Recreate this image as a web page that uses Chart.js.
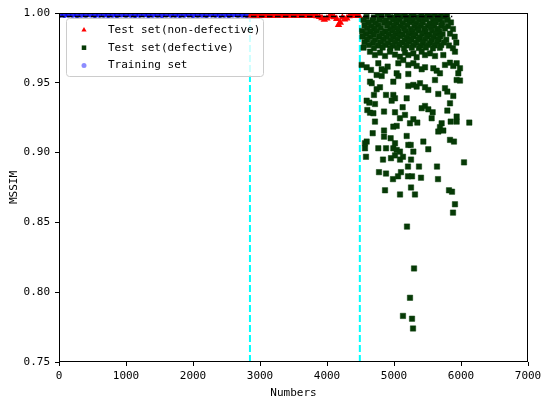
<!DOCTYPE html>
<html>
<head>
<meta charset="utf-8">
<title>MSSIM</title>
<script src="https://cdn.jsdelivr.net/npm/chart.js@4.4.1/dist/chart.umd.min.js"></script>
<style>
  html, body { margin: 0; padding: 0; background: #ffffff; }
  #graphique { display: block; }
</style>
</head>
<body>
<canvas id="graphique" width="550" height="404"></canvas>
<script>
// données : [Numbers, MSSIM]
const xTicks = [0, 1000, 2000, 3000, 4000, 5000, 6000, 7000];
const yTicks = [0.75, 0.80, 0.85, 0.90, 0.95, 1.00];

// limites des ensembles (lignes cyan) et seuil (ligne noire)
const limitesEnsembles = [2850, 4490];
const seuilMssim = [[0, 0.9975], [5870, 0.9975]];

// Training set
const trainingPts = [
  [15, 0.9988], [80, 0.9986], [140, 0.9989], [205, 0.9987], [270, 0.9985], [335, 0.9988],
  [400, 0.9987], [470, 0.9989], [535, 0.9986], [600, 0.9988], [670, 0.9987], [735, 0.9985],
  [800, 0.9988], [865, 0.9986], [935, 0.9989], [1000, 0.9987], [1070, 0.9988], [1135, 0.9986],
  [1200, 0.9987], [1270, 0.9989], [1335, 0.9985], [1400, 0.9988], [1470, 0.9987], [1535, 0.9986],
  [1600, 0.9989], [1670, 0.9987], [1735, 0.9988], [1800, 0.9985], [1870, 0.9987], [1935, 0.9989],
  [2000, 0.9986], [2070, 0.9988], [2135, 0.9987], [2200, 0.9986], [2270, 0.9989], [2335, 0.9987],
  [2400, 0.9985], [2470, 0.9988], [2535, 0.9986], [2600, 0.9989], [2670, 0.9987], [2735, 0.9988],
  [2800, 0.9986]
];

// Test set (non-defective)
const nonDefectPts = [
  [2862, 0.9983], [2898, 0.9981], [2935, 0.9984], [2970, 0.9982], [3008, 0.9980], [3045, 0.9983],
  [3080, 0.9981], [3118, 0.9984], [3155, 0.9982], [3190, 0.9980], [3228, 0.9983], [3265, 0.9981],
  [3300, 0.9984], [3338, 0.9982], [3375, 0.9979], [3410, 0.9983], [3448, 0.9981], [3485, 0.9984],
  [3520, 0.9982], [3558, 0.9980], [3595, 0.9983], [3630, 0.9981], [3668, 0.9984], [3705, 0.9980],
  [3740, 0.9982], [3778, 0.9979], [3815, 0.9983], [3850, 0.9977], [3888, 0.9972], [3925, 0.9964],
  [3960, 0.9952], [3998, 0.9961], [4035, 0.9975], [4070, 0.9981], [4108, 0.9970], [4145, 0.9958],
  [4172, 0.9915], [4198, 0.9932], [4230, 0.9968], [4262, 0.9954], [4295, 0.9962], [4330, 0.9978],
  [4368, 0.9981], [4405, 0.9983], [4440, 0.9980], [4475, 0.9982]
];

// Test set (defective)
const defectPts = [
  // nuage dense du haut
  [4760, 0.9991], [4905, 0.9988], [5040, 0.9992], [5160, 0.9989], [5290, 0.9991], [5410, 0.9988],
  [5500, 0.9992], [5610, 0.9989], [5700, 0.9990], [5790, 0.9987],
  [4590, 0.9972], [4700, 0.9968], [4815, 0.9974], [4945, 0.9970], [5010, 0.9966], [5105, 0.9973],
  [5195, 0.9969], [5265, 0.9975], [5355, 0.9970], [5445, 0.9967], [5555, 0.9973], [5650, 0.9969], [5745, 0.9971],
  [4545, 0.9951], [4680, 0.9948], [4785, 0.9953], [4880, 0.9946], [4985, 0.9952], [5080, 0.9949],
  [5185, 0.9954], [5280, 0.9947], [5375, 0.9951], [5480, 0.9955], [5585, 0.9948], [5680, 0.9952], [5800, 0.9949],
  [4620, 0.9931], [4725, 0.9928], [4850, 0.9933], [4930, 0.9927], [5035, 0.9932], [5130, 0.9929],
  [5235, 0.9934], [5330, 0.9928], [5430, 0.9931], [5530, 0.9926], [5625, 0.9933], [5720, 0.9930], [5850, 0.9932],
  [4560, 0.9912], [4660, 0.9907], [4765, 0.9913], [4895, 0.9909], [5000, 0.9911], [5100, 0.9906],
  [5200, 0.9913], [5305, 0.9908], [5400, 0.9912], [5505, 0.9907], [5600, 0.9911], [5705, 0.9909], [5805, 0.9906],
  [4600, 0.9891], [4705, 0.9888], [4805, 0.9893], [4950, 0.9887], [5050, 0.9892], [5150, 0.9889],
  [5250, 0.9886], [5350, 0.9891], [5455, 0.9888], [5550, 0.9893], [5650, 0.9887], [5760, 0.9890], [5880, 0.9885],
  [4525, 0.9871], [4650, 0.9867], [4740, 0.9872], [4870, 0.9868], [4975, 0.9873], [5070, 0.9866],
  [5170, 0.9871], [5275, 0.9869], [5370, 0.9874], [5470, 0.9867], [5570, 0.9872], [5675, 0.9868],
  [4580, 0.9851], [4700, 0.9847], [4820, 0.9853], [4920, 0.9848], [5020, 0.9852], [5125, 0.9846],
  [5220, 0.9851], [5320, 0.9849], [5420, 0.9853], [5525, 0.9847], [5620, 0.9852], [5725, 0.9849], [5835, 0.9852],
  [4530, 0.9832], [4645, 0.9828], [4780, 0.9833], [4885, 0.9827], [4990, 0.9831], [5090, 0.9834],
  [5195, 0.9828], [5290, 0.9832], [5390, 0.9826], [5495, 0.9831], [5590, 0.9829], [5690, 0.9833], [5905, 0.9830],
  [4600, 0.9811], [4720, 0.9807], [4840, 0.9812], [4955, 0.9808], [5050, 0.9813], [5160, 0.9806],
  [5260, 0.9811], [5360, 0.9809], [5465, 0.9813], [5560, 0.9807], [5665, 0.9811], [5780, 0.9808],
  [4560, 0.9791], [4685, 0.9787], [4800, 0.9792], [4910, 0.9786], [5015, 0.9791], [5120, 0.9788],
  [5225, 0.9793], [5330, 0.9787], [5430, 0.9790], [5540, 0.9785], [5640, 0.9791], [5745, 0.9789], [5930, 0.9788],
  [4625, 0.9771], [4760, 0.9767], [4870, 0.9772], [4980, 0.9766], [5080, 0.9773], [5185, 0.9768],
  [5290, 0.9771], [5400, 0.9765], [5505, 0.9772], [5610, 0.9768], [5705, 0.9770], [5820, 0.9767],
  [4545, 0.9752], [4700, 0.9748], [4830, 0.9753], [4945, 0.9747], [5050, 0.9751], [5150, 0.9746],
  [5265, 0.9752], [5370, 0.9749], [5475, 0.9753], [5580, 0.9747], [5685, 0.9751], [5880, 0.9748],
  // entre 0.97 et 0.945
  [4642, 0.9723], [4716, 0.9699], [4791, 0.9716], [4866, 0.9692], [4940, 0.9723], [5015, 0.9702],
  [5089, 0.9687], [5164, 0.9716], [5214, 0.9699], [5289, 0.9711], [5338, 0.9683], [5413, 0.9723],
  [5463, 0.9699], [5537, 0.9711], [5612, 0.9692], [5736, 0.9699], [5910, 0.9723],
  [4517, 0.9628], [4592, 0.9611], [4657, 0.9592], [4766, 0.9640], [4816, 0.9597], [4866, 0.9587],
  [4905, 0.9616], [4741, 0.9556], [4816, 0.9549], [5065, 0.9640], [5139, 0.9663], [5214, 0.9628],
  [5289, 0.9640], [5338, 0.9621], [5413, 0.9597], [5463, 0.9611], [5587, 0.9604], [5637, 0.9587],
  [5686, 0.9568], [5761, 0.9628], [5836, 0.9644], [5885, 0.9621], [5935, 0.9640], [5985, 0.9604],
  [5960, 0.9568], [5040, 0.9568], [5065, 0.9549], [5214, 0.9563],
  [4642, 0.9508], [4667, 0.9497], [4990, 0.9508], [5214, 0.9477], [5289, 0.9485], [5338, 0.9473],
  [5388, 0.9497], [5612, 0.9520], [5761, 0.9461], [5935, 0.9520], [5985, 0.9516], [4741, 0.9454],
  [4791, 0.9468], [5463, 0.9468],
  // entre 0.945 et 0.90
  [5512, 0.9449], [5661, 0.9420], [5796, 0.9437], [5885, 0.9406], [4881, 0.9413], [4990, 0.9413],
  [5015, 0.9389], [4965, 0.9372], [4701, 0.9413], [5189, 0.9389],
  [4592, 0.9372], [4632, 0.9358], [4716, 0.9348], [4602, 0.9305], [4642, 0.9286], [4692, 0.9282],
  [4851, 0.9294], [5015, 0.9289], [5129, 0.9325], [5413, 0.9318], [5463, 0.9334], [5512, 0.9310],
  [5577, 0.9289], [5796, 0.9301], [5836, 0.9353],
  [4716, 0.9222], [5089, 0.9246], [5164, 0.9270], [5239, 0.9210], [5289, 0.9239], [5348, 0.9215],
  [5040, 0.9191], [4990, 0.9186], [5562, 0.9246], [5711, 0.9210], [5686, 0.9182], [5846, 0.9222],
  [5935, 0.9222], [5935, 0.9258], [6124, 0.9215], [5736, 0.9158], [5661, 0.9151],
  [4682, 0.9139], [4851, 0.9158], [4851, 0.9114], [5189, 0.9119], [4592, 0.9079], [4567, 0.9067],
  [4950, 0.9103], [5015, 0.9067], [5438, 0.9079], [5836, 0.9091], [5895, 0.9079],
  [4567, 0.9031], [4766, 0.9031], [4881, 0.9031], [4990, 0.9031], [5040, 0.9019], [5089, 0.9007],
  [5214, 0.9055], [5249, 0.9055], [5289, 0.9007], [5512, 0.9024],
  // partie basse
  [4582, 0.8970], [4836, 0.8950], [4955, 0.8960], [5015, 0.8980], [5090, 0.8950], [5134, 0.8970],
  [5254, 0.8950], [5209, 0.8900], [5373, 0.8900], [5642, 0.8900], [6045, 0.8930],
  [4776, 0.8860], [4881, 0.8850], [4985, 0.8810], [5060, 0.8830], [5104, 0.8860], [5209, 0.8830],
  [5269, 0.8830], [5403, 0.8820], [5657, 0.8810],
  [4866, 0.8730], [5090, 0.8700], [5254, 0.8750], [5313, 0.8700], [5821, 0.8730], [5866, 0.8720],
  [5910, 0.8630], [5881, 0.8570], [5194, 0.8470], [5299, 0.8170], [5239, 0.7960],
  [5134, 0.7830], [5269, 0.7810], [5284, 0.7740]
];

const versPoints = pts => pts.map(p => ({ x: p[0], y: p[1] }));

// cadre noir et légende dessinés sur le canvas
const cadreEtLegende = {
  id: 'cadreEtLegende',
  afterDatasetsDraw(chart) {
    const ctx = chart.ctx;
    const a = chart.chartArea;
    ctx.save();
    ctx.strokeStyle = '#000000';
    ctx.lineWidth = 1;
    const l = Math.round(a.left) + 0.5, t = Math.round(a.top) + 0.5;
    const r = Math.round(a.right) - 0.5, b = Math.round(a.bottom) - 0.5;
    ctx.strokeRect(l, t, r - l, b - t);

    // boîte de légende
    const lx = Math.round(a.left) + 7, ly = Math.round(a.top) + 5, lw = 197, lh = 58;
    ctx.beginPath();
    ctx.roundRect(lx + 0.5, ly + 0.5, lw, lh, 3);
    ctx.fillStyle = 'rgba(255,255,255,0.8)';
    ctx.fill();
    ctx.strokeStyle = '#cccccc';
    ctx.stroke();

    ctx.font = '11px "DejaVu Sans Mono"';
    ctx.textBaseline = 'middle';
    ctx.textAlign = 'left';
    [1, 2, 3].forEach((idx, i) => {
      const ds = chart.data.datasets[idx];
      const yy = ly + 12 + i * 17.7;
      ctx.fillStyle = ds.legendColor;
      ctx.strokeStyle = ds.legendColor;
      Chart.helpers.drawPoint(ctx, {
        pointStyle: ds.pointStyle, radius: ds.legendRadius, rotation: 0, borderWidth: 0
      }, lx + 18, yy);
      ctx.fillStyle = '#000000';
      ctx.fillText(ds.label, lx + 42, yy);
    });
    ctx.restore();
  }
};

const policeAxes = { family: '"DejaVu Sans Mono", monospace', size: 11 };

const ctx = document.getElementById('graphique').getContext('2d');
new Chart(ctx, {
  type: 'scatter',
  data: {
    datasets: [
      {
        type: 'line',
        label: 'seuil',
        data: versPoints(seuilMssim),
        borderColor: '#000000',
        borderWidth: 1.6,
        borderDash: [5.5, 2.5],
        pointRadius: 0,
        showLine: true,
        fill: false,
        order: 0
      },
      {
        label: 'Test set(non-defective)',
        data: versPoints(nonDefectPts),
        pointStyle: 'triangle',
        pointRadius: 4.3,
        backgroundColor: '#ff0000',
        borderColor: '#ff0000',
        borderWidth: 0,
        legendColor: '#ff0000',
        legendRadius: 3,
        order: 1
      },
      {
        label: 'Test set(defective)',
        data: versPoints(defectPts),
        pointStyle: 'rect',
        pointRadius: 3.8,
        backgroundColor: '#063a06',
        borderColor: '#063a06',
        borderWidth: 0.5,
        legendColor: '#063a06',
        legendRadius: 3.2,
        order: 2
      },
      {
        label: 'Training set',
        data: versPoints(trainingPts),
        pointStyle: 'circle',
        pointRadius: 3,
        backgroundColor: 'rgba(0,0,240,0.85)',
        borderColor: 'rgba(0,0,240,0.85)',
        borderWidth: 0,
        legendColor: 'rgba(0,0,255,0.45)',
        legendRadius: 2.5,
        order: 3
      },
      {
        type: 'line',
        label: 'limite 1',
        data: [{ x: limitesEnsembles[0], y: yTicks[0] }, { x: limitesEnsembles[0], y: yTicks[yTicks.length - 1] }],
        borderColor: '#00ffff',
        borderWidth: 2,
        borderDash: [7, 3],
        pointRadius: 0,
        showLine: true,
        fill: false,
        order: 4
      },
      {
        type: 'line',
        label: 'limite 2',
        data: [{ x: limitesEnsembles[1], y: yTicks[0] }, { x: limitesEnsembles[1], y: yTicks[yTicks.length - 1] }],
        borderColor: '#00ffff',
        borderWidth: 2,
        borderDash: [7, 3],
        pointRadius: 0,
        showLine: true,
        fill: false,
        order: 4
      }
    ]
  },
  options: {
    responsive: false,
    animation: false,
    layout: { padding: { left: 0, right: 22, top: 13, bottom: 0 } },
    plugins: {
      legend: { display: false },
      tooltip: { enabled: false }
    },
    scales: {
      x: {
        type: 'linear',
        min: xTicks[0],
        max: xTicks[xTicks.length - 1],
        afterBuildTicks: s => { s.ticks = xTicks.map(v => ({ value: v })); },
        afterFit: s => { s.height = 42; },
        ticks: { color: '#000000', font: policeAxes, padding: 4, maxRotation: 0, callback: v => String(v) },
        grid: { drawOnChartArea: false, drawTicks: true, tickLength: 4, color: '#000000' },
        border: { display: false },
        title: { display: true, text: 'Numbers', color: '#000000', font: policeAxes, padding: { top: 0, bottom: 4 } }
      },
      y: {
        type: 'linear',
        min: yTicks[0],
        max: yTicks[yTicks.length - 1],
        afterBuildTicks: s => { s.ticks = yTicks.map(v => ({ value: v })); },
        afterFit: s => { s.width = 59; },
        ticks: { color: '#000000', font: policeAxes, padding: 5, callback: v => v.toFixed(2) },
        grid: { drawOnChartArea: false, drawTicks: true, tickLength: 4, color: '#000000' },
        border: { display: false },
        title: { display: true, text: 'MSSIM', color: '#000000', font: policeAxes, padding: { top: 8, bottom: 0 } }
      }
    }
  },
  plugins: [cadreEtLegende]
});
</script>
</body>
</html>
